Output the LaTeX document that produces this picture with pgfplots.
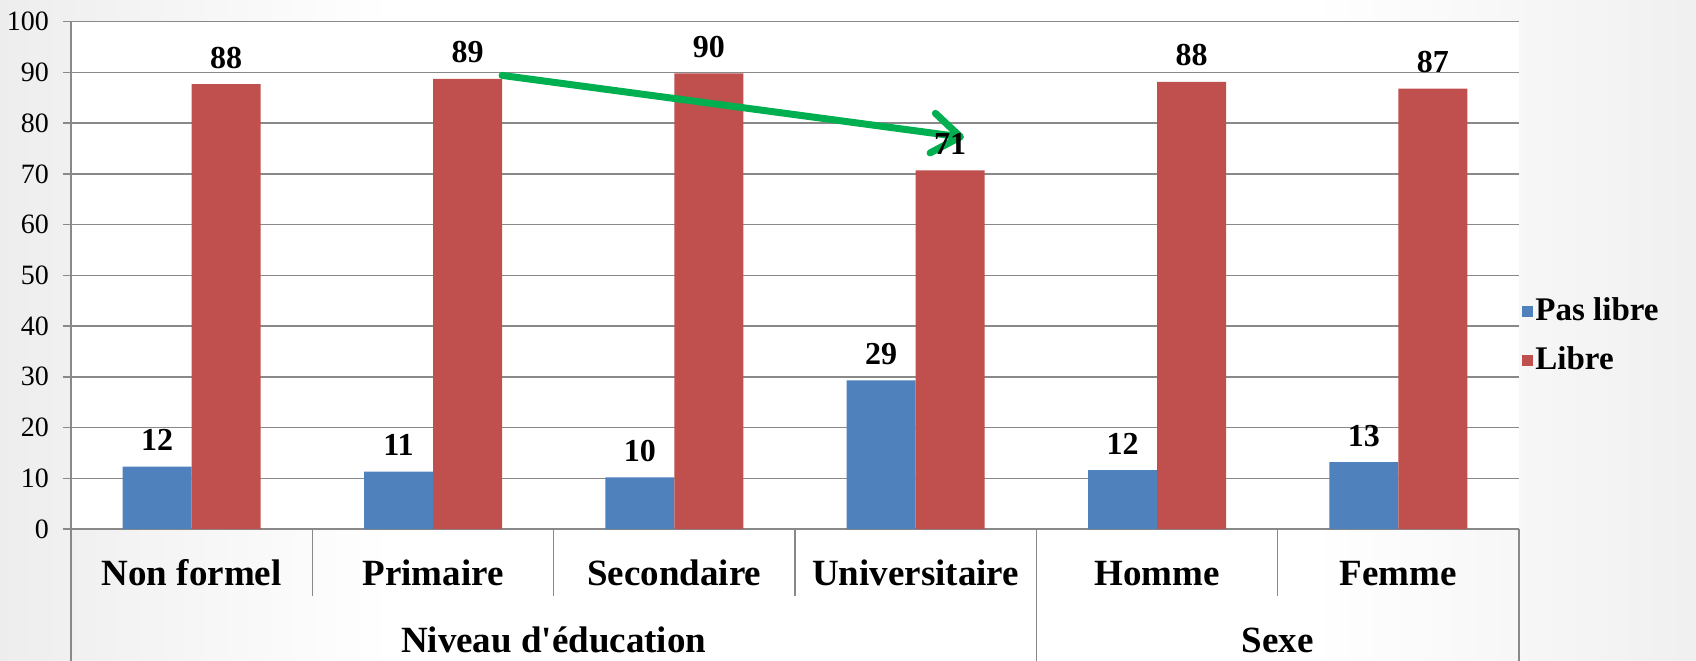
\documentclass[border=0pt]{standalone}
\usepackage{pgfplots}
\pgfplotsset{compat=1.18}
\usepackage{fontspec}
\setmainfont{Liberation Serif}[Ligatures=TeXOff]
\usetikzlibrary{arrows.meta}

\definecolor{bleu}{HTML}{4F81BD}
\definecolor{rouge}{HTML}{C0504D}
\definecolor{vert}{HTML}{00B050}
\definecolor{grille}{HTML}{898989}

\begin{document}
\begin{tikzpicture}
\useasboundingbox (-35.5pt,-65.5pt) rectangle (812.5pt,264.5pt);
\fill[white] (-35.5pt,-65.5pt) rectangle (812.5pt,264.5pt);
\shade[left color=black!7, right color=white] (-35.5pt,-65.5pt) rectangle (160pt,264.5pt);
\shade[left color=white, right color=black!6] (620pt,-65.5pt) rectangle (812.5pt,264.5pt);
\begin{axis}[
  at={(0,0)}, anchor=south west,
  scale only axis, width=724pt, height=253.7pt,
  axis background/.style={fill=white},
  clip=false,
  xmin=-0.5, xmax=5.5, ymin=0, ymax=100,
  ybar=0pt, bar width=34.5pt,
  axis x line*=bottom, axis y line*=left,
  axis line style={grille, line width=0.75pt},
  xtick={0,...,5},
  xticklabels={Non formel,Primaire,Secondaire,Universitaire,Homme,Femme},
  xtick style={draw=none},
  xticklabel style={font=\fontsize{18.5}{22}\selectfont\bfseries, anchor=base, yshift=-24.3pt},
  ytick={0,10,...,100},
  tick align=outside, major tick length=4pt,
  ytick style={grille, line width=0.75pt},
  yticklabel style={font=\fontsize{14}{16}\selectfont, xshift=-3.5pt},
  /pgf/number format/assume math mode=true,
  ymajorgrids, grid style={grille, line width=0.75pt},
  nodes near coords={\pgfmathprintnumber[fixed,precision=0]{\pgfplotspointmeta}},
  every node near coord/.append style={font=\fontsize{16}{18}\selectfont\bfseries, anchor=base, yshift=8pt},
  legend image code/.code={\fill[#1] (0pt,-2.75pt) rectangle (5.5pt,2.75pt);},
  legend cell align=left,
  legend style={at={(1.0,0.381)}, anchor=west, xshift=1.5pt, draw=none, fill=none, inner sep=0pt,
    font=\fontsize{16.5}{18}\selectfont\bfseries,
    nodes={text height=12pt, text depth=3pt, inner ysep=0pt, inner xsep=1pt},
    row sep=9.5pt},
]
\addplot[fill=bleu, draw=none] coordinates {(0,12.3) (1,11.3) (2,10.2) (3,29.3) (4,11.6) (5,13.2)};
\addlegendentry{Pas libre}
\addplot[fill=rouge, draw=none] coordinates {(0,87.7) (1,88.7) (2,89.8) (3,70.7) (4,88.1) (5,86.8)};
\addlegendentry{Libre}

% separateurs sous l'axe
\draw[grille, line width=0.75pt] (axis cs:0.5,0) -- ++(0pt,-33.5pt);
\draw[grille, line width=0.75pt] (axis cs:1.5,0) -- ++(0pt,-33.5pt);
\draw[grille, line width=0.75pt] (axis cs:2.5,0) -- ++(0pt,-33.5pt);
\draw[grille, line width=0.75pt] (axis cs:4.5,0) -- ++(0pt,-33.5pt);
\draw[grille, line width=0.75pt] (axis cs:-0.5,0) -- ++(0pt,-66pt);
\draw[grille, line width=0.75pt] (axis cs:3.5,0) -- ++(0pt,-66pt);
\draw[grille, line width=0.75pt] (axis cs:5.5,0) -- ++(0pt,-66pt);
\node[anchor=base, font=\fontsize{18.5}{22}\selectfont\bfseries, yshift=-61.8pt] at (axis cs:1.5,0) {Niveau d'éducation};
\node[anchor=base, font=\fontsize{18.5}{22}\selectfont\bfseries, yshift=-61.8pt] at (axis cs:4.5,0) {Sexe};

% fleche verte
\draw[vert, line width=3.5pt, line cap=round, -{Straight Barb[length=14pt, width=20pt, round]}]
  (axis cs:1.286,89.4) -- (axis cs:3.2,77.2);
\end{axis}
\end{tikzpicture}
\end{document}
